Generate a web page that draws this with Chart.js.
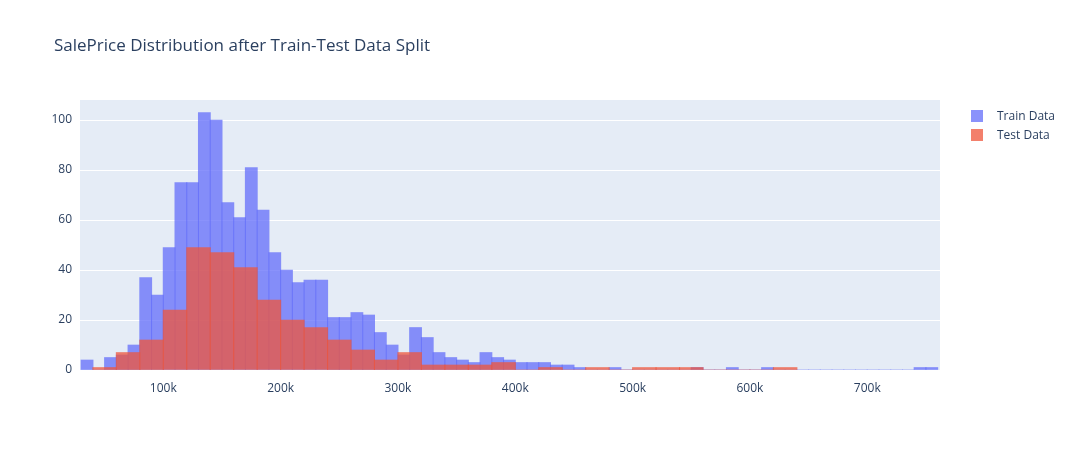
<!DOCTYPE html>
<html>
<head>
<script src="https://cdn.jsdelivr.net/npm/chart.js"></script>
<style>
  body { margin: 0; background: #fff; font-family: "Open Sans", sans-serif; }
  #wrap { position: relative; width: 1077px; height: 450px; }
  #title { position: absolute; left: 54px; top: 33px; font-size: 17px; color: #2a3f5f; }
  .leg { position: absolute; left: 971px; font-size: 12px; color: #2a3f5f; }
  .leg span { display: inline-block; width: 12px; height: 12px; vertical-align: -2px; margin-right: 14px; }
</style>
</head>
<body>
<div id="wrap">
  <canvas id="c" width="1077" height="450"></canvas>
  <div id="title">SalePrice Distribution after Train-Test Data Split</div>
  <div class="leg" style="top:107px"><span style="background:rgba(99,110,250,0.75)"></span>Train Data</div>
  <div class="leg" style="top:126px"><span style="background:rgba(239,85,59,0.75)"></span>Test Data</div>
</div>
<script>
// train: 10k bins starting at 30k
const trainStart = 30000;
const trainCounts = [4, 0, 5, 6, 10, 37, 30, 49, 75, 75, 103, 100, 67, 61, 81, 64, 47, 40, 35, 36,
  36, 21, 21, 23, 22, 15, 10, 6, 17, 13, 7, 5, 4, 3, 7, 5, 4, 3, 3, 3,
  2, 2, 1, 0, 0, 1, 0, 0, 0, 0, 0, 0, 1, 0, 0, 1, 0, 0, 1, 0,
  0, 0, 0, 0, 0, 0, 0, 0, 0, 0, 0, 1, 1];
// test: 20k bins starting at 40k
const testStart = 40000;
const testCounts = [1, 7, 12, 24, 49, 47, 41, 28, 20, 17, 12, 8, 4, 7, 2, 2, 2, 3, 0, 1,
  0, 1, 0, 1, 1, 1, 0, 0, 0, 1];
const xTicks = [100000, 200000, 300000, 400000, 500000, 600000, 700000];

const trainData = trainCounts.map((v, i) => ({ x: trainStart + 10000 * i + 5000, y: v }));
const testData = testCounts.map((v, i) => ({ x: testStart + 20000 * i + 10000, y: v }));

function binWidth(w) {
  return ctx => {
    const s = ctx.chart.scales.x;
    return s ? Math.abs(s.getPixelForValue(w) - s.getPixelForValue(0)) + 0.4 : 10;
  };
}

new Chart(document.getElementById('c'), {
  type: 'bar',
  data: {
    datasets: [
      { label: 'Test Data', data: testData, backgroundColor: 'rgba(239,85,59,0.75)', barThickness: binWidth(20000), borderWidth: 0, order: 0 },
      { label: 'Train Data', data: trainData, backgroundColor: 'rgba(99,110,250,0.75)', barThickness: binWidth(10000), borderWidth: 0, order: 1 }
    ]
  },
  options: {
    responsive: false,
    animation: false,
    layout: { padding: { left: 50, right: 137, top: 100, bottom: 50 } },
    plugins: { legend: { display: false }, tooltip: { enabled: false } },
    datasets: { bar: { grouped: false } },
    scales: {
      x: {
        type: 'linear', min: 29000, max: 762000, offset: false, bounds: 'ticks',
        afterBuildTicks: a => { a.ticks = xTicks.map(v => ({ value: v })); },
        afterDataLimits: a => { a.min = 29000; a.max = 762000; },
        afterFit: a => { a.height = 30; },
        grid: { display: false, offset: false },
        border: { display: false },
        ticks: { color: '#2a3f5f', font: { family: 'Open Sans', size: 12 }, maxRotation: 0,
          callback: v => (v / 1000) + 'k' }
      },
      y: {
        min: 0, max: 108,
        afterBuildTicks: a => { a.ticks = [0, 20, 40, 60, 80, 100].map(v => ({ value: v })); },
        afterFit: a => { a.width = 30; },
        grid: { color: '#ffffff', lineWidth: 1, drawTicks: false },
        border: { display: false },
        ticks: { color: '#2a3f5f', font: { family: 'Open Sans', size: 12 }, padding: 8 }
      }
    }
  },
  plugins: [{
    id: 'bg',
    beforeDraw(chart) {
      const a = chart.chartArea, c = chart.ctx;
      c.save(); c.fillStyle = '#e5ecf6';
      c.fillRect(a.left, a.top, a.right - a.left, a.bottom - a.top);
      c.restore();
    },
    beforeDatasetsDraw(chart) {
      const a = chart.chartArea, c = chart.ctx;
      c.save(); c.beginPath(); c.rect(a.left, a.top, a.right - a.left, a.bottom - a.top); c.clip();
    },
    afterDatasetsDraw(chart) { chart.ctx.restore(); }
  }]
});
</script>
</body>
</html>
